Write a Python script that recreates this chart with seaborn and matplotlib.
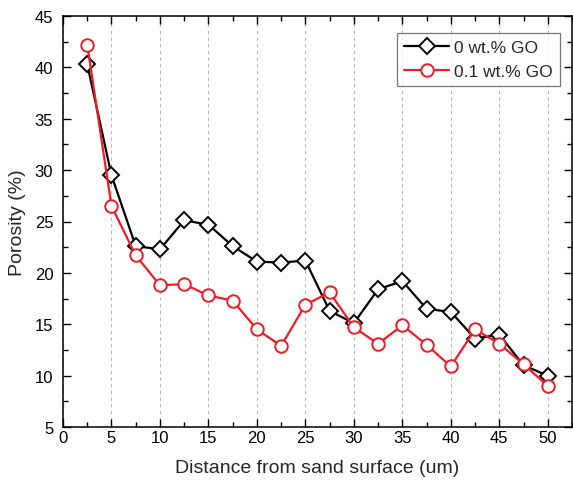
import matplotlib
matplotlib.use("Agg")
import matplotlib.pyplot as plt
from matplotlib.ticker import MultipleLocator
import numpy as np
import pandas as pd
import seaborn as sns

# Depth below the sand surface (um)
distance = [2.5, 5, 7.5, 10, 12.5, 15, 17.5, 20, 22.5, 25,
            27.5, 30, 32.5, 35, 37.5, 40, 42.5, 45, 47.5, 50]
# Porosity (%) for the two mixes
porosity_0go = [40.3, 29.5, 22.6, 22.3, 25.1, 24.7, 22.6, 21.1, 21.0, 21.2,
                16.3, 15.1, 18.4, 19.2, 16.5, 16.2, 13.6, 14.0, 11.0, 10.0]
porosity_01go = [42.2, 26.5, 21.7, 18.8, 18.9, 17.8, 17.3, 14.5, 12.9, 16.9,
                 18.1, 14.7, 13.1, 14.9, 13.0, 10.9, 14.5, 13.1, 11.1, 9.0]
series_labels = ["0 wt.% GO", "0.1 wt.% GO"]

sns.set_theme(style="ticks")
plt.rcParams["font.family"] = ["Liberation Sans", "DejaVu Sans"]

fig = plt.figure(figsize=(5.73, 4.89), dpi=100)
ax = fig.add_axes([63 / 573, 1 - 428 / 489, (572 - 63) / 573, (428 - 17) / 489])

df0 = pd.DataFrame({"x": distance, "y": porosity_0go})
df1 = pd.DataFrame({"x": distance, "y": porosity_01go})

sns.lineplot(data=df0, x="x", y="y", ax=ax, color="black", lw=1.6,
             marker="D", ms=7.8, mfc="white", mec="black", mew=1.4,
             label=series_labels[0], zorder=3)
sns.lineplot(data=df1, x="x", y="y", ax=ax, color="#ee1c25", lw=1.6,
             marker="o", ms=9, mfc="white", mec="#ee1c25", mew=1.4,
             label=series_labels[1], zorder=4)

ax.set_xlim(0, 52.5)
ax.set_ylim(5, 45)
ax.xaxis.set_major_locator(MultipleLocator(5))
ax.xaxis.set_minor_locator(MultipleLocator(2.5))
ax.yaxis.set_major_locator(MultipleLocator(5))
ax.yaxis.set_minor_locator(MultipleLocator(2.5))

ax.tick_params(which="both", direction="in", top=True, right=True,
               width=1.0, colors="black", labelsize=12)
ax.tick_params(which="major", length=6)
ax.tick_params(which="minor", length=3.5)
ax.tick_params(axis="x", pad=2)
ax.tick_params(axis="y", pad=7)

for s in ax.spines.values():
    s.set_linewidth(1.1)
    s.set_color("black")

ax.grid(axis="x", which="major", linestyle=(0, (3, 3)), color="#b8b8b8", lw=0.8)
ax.set_axisbelow(True)

ax.set_xlabel("Distance from sand surface (um)", fontsize=14, labelpad=10)
ax.set_ylabel("Porosity (%)", fontsize=14, labelpad=6)

leg = ax.legend(loc="upper right",
                bbox_to_anchor=((560 - 63) / (572 - 63), 1 - (34 - 17) / 411),
                borderaxespad=0, fontsize=12.5, frameon=True, fancybox=False,
                edgecolor="#555555", handlelength=2.6, handletextpad=0.3,
                borderpad=0.4, labelspacing=0.5)
leg.get_frame().set_linewidth(0.9)

fig.savefig("out.png", dpi=100)
